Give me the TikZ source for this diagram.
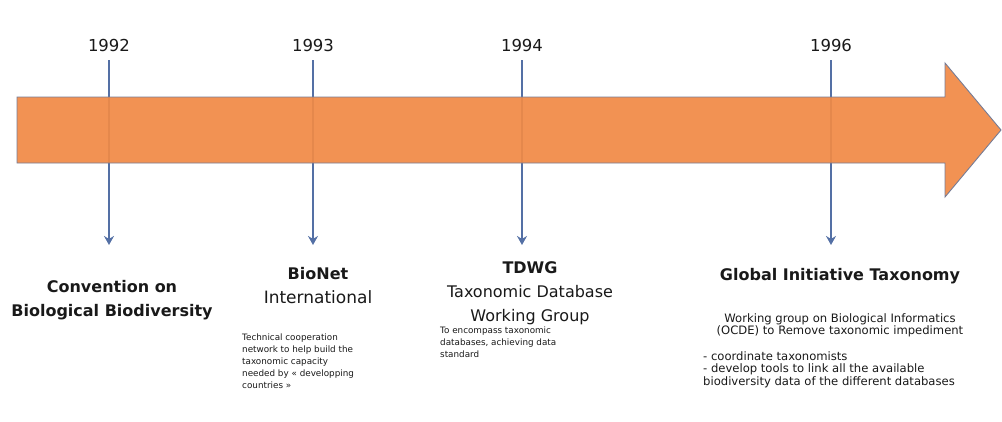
\documentclass[tikz,border=0pt]{standalone}
\usepackage{fontspec}
\setmainfont{DejaVu Sans}
\usetikzlibrary{arrows.meta}
\definecolor{tlorange}{RGB}{241,138,70}
\definecolor{tlblue}{RGB}{84,112,165}
\definecolor{tledge}{RGB}{118,124,150}
\definecolor{tltext}{RGB}{25,25,25}
\begin{document}
\begin{tikzpicture}[x=1pt,y=-1pt,
  year/.style={font=\fontsize{16.5}{19}\selectfont, text=tltext, inner sep=0pt},
  ttl/.style={font=\fontsize{16}{24}\selectfont, text=tltext, align=center, inner sep=0pt},
  desc/.style={font=\fontsize{8.8}{12}\selectfont, text=tltext, align=left, inner sep=0pt},
  gdesc/.style={font=\fontsize{11.6}{12.8}\selectfont, text=tltext, inner sep=0pt},
  tick/.style={draw=tlblue, line width=1.5pt, shorten <=9pt, -{Stealth[length=9pt,width=10pt]}},
  band/.style={fill=tlorange, draw=tledge, line width=0.9pt, line join=miter}
]
\useasboundingbox (0,0) rectangle (1002,421);
% years
\node[year] (y1) at (109,45) {1992};
\node[year] (y2) at (313,45) {1993};
\node[year] (y3) at (522,45) {1994};
\node[year] (y4) at (831,45) {1996};
% tick ends
\coordinate (e1) at (109,245);
\coordinate (e2) at (313,245);
\coordinate (e3) at (522,245);
\coordinate (e4) at (831,245);
\draw[tick] (y1) -- (e1);
\draw[tick] (y2) -- (e2);
\draw[tick] (y3) -- (e3);
\draw[tick] (y4) -- (e4);
% main arrow
\path[band, fill opacity=0.93] (17,97) -- (945,97) -- (945,63) -- (1001,130)
  -- (945,197) -- (945,163) -- (17,163) -- cycle;
% titles
\node[ttl] (t1) at (112,300) {\bfseries Convention on\\\bfseries Biological Biodiversity};
\node[ttl] (t2) at (318,286) {\bfseries BioNet\\\fontsize{17}{24}\selectfont International};
\node[ttl] (t3) at (530,293) {\bfseries TDWG\\Taxonomic Database\\Working Group};
\node[ttl] (t4) at (840,276) {\bfseries Global Initiative Taxonomy};
% descriptions
\node[desc, anchor=north west] (d2) at (242,334) {Technical cooperation\\network to help build the\\taxonomic capacity\\needed by « developping\\countries »};
\node[desc, anchor=north west] (d3) at (440,327) {To encompass taxonomic\\databases, achieving data\\standard};
\node[gdesc, align=center, anchor=north] (d4a) at (840,313) {Working group on Biological Informatics\\(OCDE) to Remove taxonomic impediment};
\node[gdesc, align=left, anchor=north west] (d4b) at (703,351) {- coordinate taxonomists\\- develop tools to link all the available\\biodiversity data of the different databases};
\end{tikzpicture}
\end{document}
